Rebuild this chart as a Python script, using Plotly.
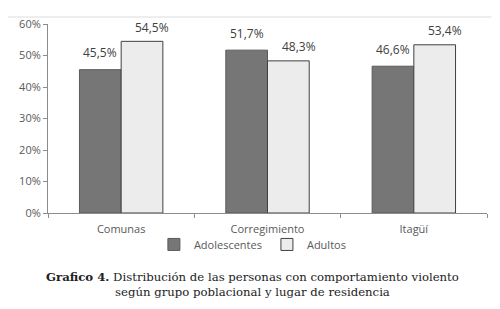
import plotly.graph_objects as go

categories = ["Comunas", "Corregimiento", "Itagüí"]
adolescentes = [45.5, 51.7, 46.6]
adultos = [54.5, 48.3, 53.4]
y_ticks = [0, 10, 20, 30, 40, 50, 60]
y_tick_labels = ["0%", "10%", "20%", "30%", "40%", "50%", "60%"]

def fmt(v):
    return f"{v:.1f}%".replace(".", ",")

fig = go.Figure()
fig.add_trace(go.Bar(x=categories, y=adolescentes, name="Adolescentes",
                     marker=dict(color="#767676", line=dict(color="#5a5a5a", width=1))))
fig.add_trace(go.Bar(x=categories, y=adultos, name="Adultos",
                     marker=dict(color="#ececec", line=dict(color="#404040", width=1))))

label_font = dict(family="Open Sans, Liberation Sans, sans-serif", size=12, color="#404040")
for c, a, b in zip(categories, adolescentes, adultos):
    fig.add_annotation(x=c, y=a, text=fmt(a), showarrow=False, xshift=-21, yshift=17, font=label_font)
    fig.add_annotation(x=c, y=b, text=fmt(b), showarrow=False, xshift=31, yshift=14, font=label_font)

fig.add_annotation(xref="paper", yref="paper", x=0.465, y=-0.376, yanchor="middle",
                   text="<b>Grafico 4.</b> Distribución de las personas con comportamiento violento<br>según grupo poblacional y lugar de residencia",
                   showarrow=False, align="center",
                   font=dict(family="DejaVu Serif, Liberation Serif, serif", size=11.7, color="#222222"))

fig.add_shape(type="line", xref="paper", yref="paper", x0=-0.091, x1=1.01, y0=1.037, y1=1.037,
              line=dict(color="#dcdcdc", width=1))

tick_font = dict(family="Open Sans, Liberation Sans, sans-serif", size=11, color="#595959")
fig.update_layout(
    width=484, height=293,
    margin=dict(l=40, r=5, t=16, b=88, autoexpand=False),
    paper_bgcolor="white", plot_bgcolor="white",
    barmode="group", bargap=0.43, bargroupgap=0,
    showlegend=True,
    legend=dict(orientation="h", xref="container", yref="container", x=0.506, xanchor="center",
                y=0.193, yanchor="middle", font=tick_font, tracegroupgap=0, itemwidth=30,
                bgcolor="rgba(0,0,0,0)"),
    xaxis=dict(showline=True, linecolor="#8c8c8c", ticks="outside", tickson="boundaries",
               ticklen=4, tickcolor="#8c8c8c", tickfont=tick_font, showgrid=False, automargin=False,
               ticklabelstandoff=6),
    yaxis=dict(range=[0, 60], tickvals=y_ticks, ticktext=y_tick_labels, showline=True,
               linecolor="#8c8c8c", ticks="outside", ticklen=4, tickcolor="#8c8c8c",
               tickfont=tick_font, showgrid=False, zeroline=False, automargin=False),
)

fig.write_html("out.html")
